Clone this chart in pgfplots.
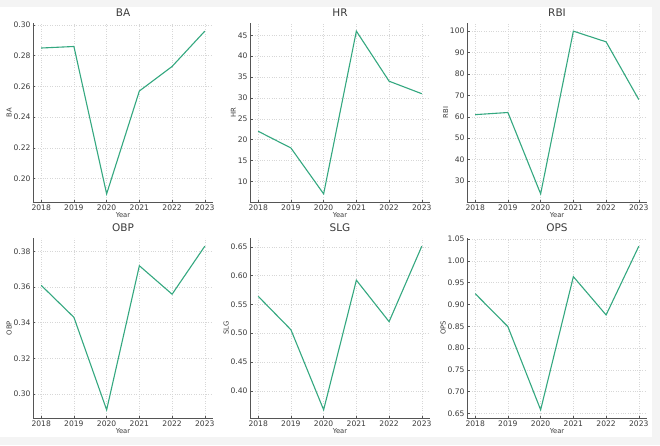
\documentclass[border=0pt]{standalone}
\usepackage{pgfplots}
\pgfplotsset{compat=1.18}
\usepackage{fontspec}
\setmainfont{DejaVu Sans}
\definecolor{linec}{RGB}{52,168,128}
\definecolor{spine}{RGB}{85,85,85}
\definecolor{gridc}{RGB}{215,215,215}
\definecolor{txt}{RGB}{60,60,60}
\definecolor{bgc}{RGB}{244,244,244}
\pgfplotsset{
  panel/.style={
    scale only axis, width=180pt, height=179pt, anchor=south west,
    axis x line*=bottom, axis y line*=left,
    axis line style={spine, line width=0.8pt},
    xmin=2017.75, xmax=2023.25,
    xtick={2018,2019,2020,2021,2022,2023},
    xticklabels={2018,2019,2020,2021,2022,2023},
    grid=major, major grid style={gridc, dotted, line width=0.5pt},
    tick align=inside, major tick length=2.5pt,
    tick style={spine, line width=0.5pt},
    ticklabel style={font=\fontsize{7.6}{8}\selectfont, text=txt},
    /pgf/number format/assume math mode=true,
    xticklabel style={yshift=1pt},
    yticklabel style={/pgf/number format/fixed, /pgf/number format/fixed zerofill, /pgf/number format/precision=2, xshift=1pt},
    title style={font=\fontsize{10.5}{12}\selectfont, text=txt, yshift=-3pt},
    xlabel={Year},
    label style={font=\fontsize{6.8}{8}\selectfont, text=txt},
    xlabel style={yshift=5pt},
    ylabel style={yshift=-5pt},
    cycle list={{linec, mark=none}},
    every axis plot/.append style={line width=1.1pt},
  },
  intpanel/.style={panel, yticklabel style={/pgf/number format/precision=0, /pgf/number format/fixed zerofill=false}},
}
\begin{document}
\begin{tikzpicture}
\fill[bgc] (0pt,0pt) rectangle (660pt,445pt);
\fill[white] (0pt,8pt) rectangle (652pt,438pt);
\useasboundingbox (0pt,0pt) rectangle (660pt,445pt);
% BA
\begin{axis}[panel, at={(33pt,243pt)}, title={BA}, ylabel={BA},
  ymin=0.1847, ymax=0.3013, ytick={0.20,0.22,0.24,0.26,0.28,0.30}]
\addplot+[line width=1.1pt] coordinates {(2018,0.285) (2019,0.286) (2020,0.190) (2021,0.257) (2022,0.273) (2023,0.296)};
\end{axis}
% HR
\begin{axis}[intpanel, at={(250pt,243pt)}, title={HR}, ylabel={HR},
  ymin=5.05, ymax=47.95, ytick={10,15,20,25,30,35,40,45}]
\addplot+[line width=1.1pt] coordinates {(2018,22) (2019,18) (2020,7) (2021,46) (2022,34) (2023,31)};
\end{axis}
% RBI
\begin{axis}[intpanel, at={(467pt,243pt)}, title={RBI}, ylabel={RBI},
  ymin=20.2, ymax=103.8, ytick={30,40,50,60,70,80,90,100}]
\addplot+[line width=1.1pt] coordinates {(2018,61) (2019,62) (2020,24) (2021,100) (2022,95) (2023,68)};
\end{axis}
% OBP
\begin{axis}[panel, at={(33pt,27pt)}, height=180pt, title={OBP}, ylabel={OBP},
  ymin=0.2864, ymax=0.3876, ytick={0.30,0.32,0.34,0.36,0.38}]
\addplot+[line width=1.1pt] coordinates {(2018,0.361) (2019,0.343) (2020,0.291) (2021,0.372) (2022,0.356) (2023,0.383)};
\end{axis}
% SLG
\begin{axis}[panel, at={(250pt,27pt)}, height=180pt, title={SLG}, ylabel={SLG},
  ymin=0.3528, ymax=0.6652, ytick={0.40,0.45,0.50,0.55,0.60,0.65}]
\addplot+[line width=1.1pt] coordinates {(2018,0.564) (2019,0.506) (2020,0.367) (2021,0.592) (2022,0.520) (2023,0.651)};
\end{axis}
% OPS
\begin{axis}[panel, at={(467pt,27pt)}, height=180pt, title={OPS}, ylabel={OPS},
  ymin=0.6392, ymax=1.0528, ytick={0.65,0.70,0.75,0.80,0.85,0.90,0.95,1.00,1.05}]
\addplot+[line width=1.1pt] coordinates {(2018,0.925) (2019,0.849) (2020,0.658) (2021,0.964) (2022,0.876) (2023,1.034)};
\end{axis}
\end{tikzpicture}
\end{document}
